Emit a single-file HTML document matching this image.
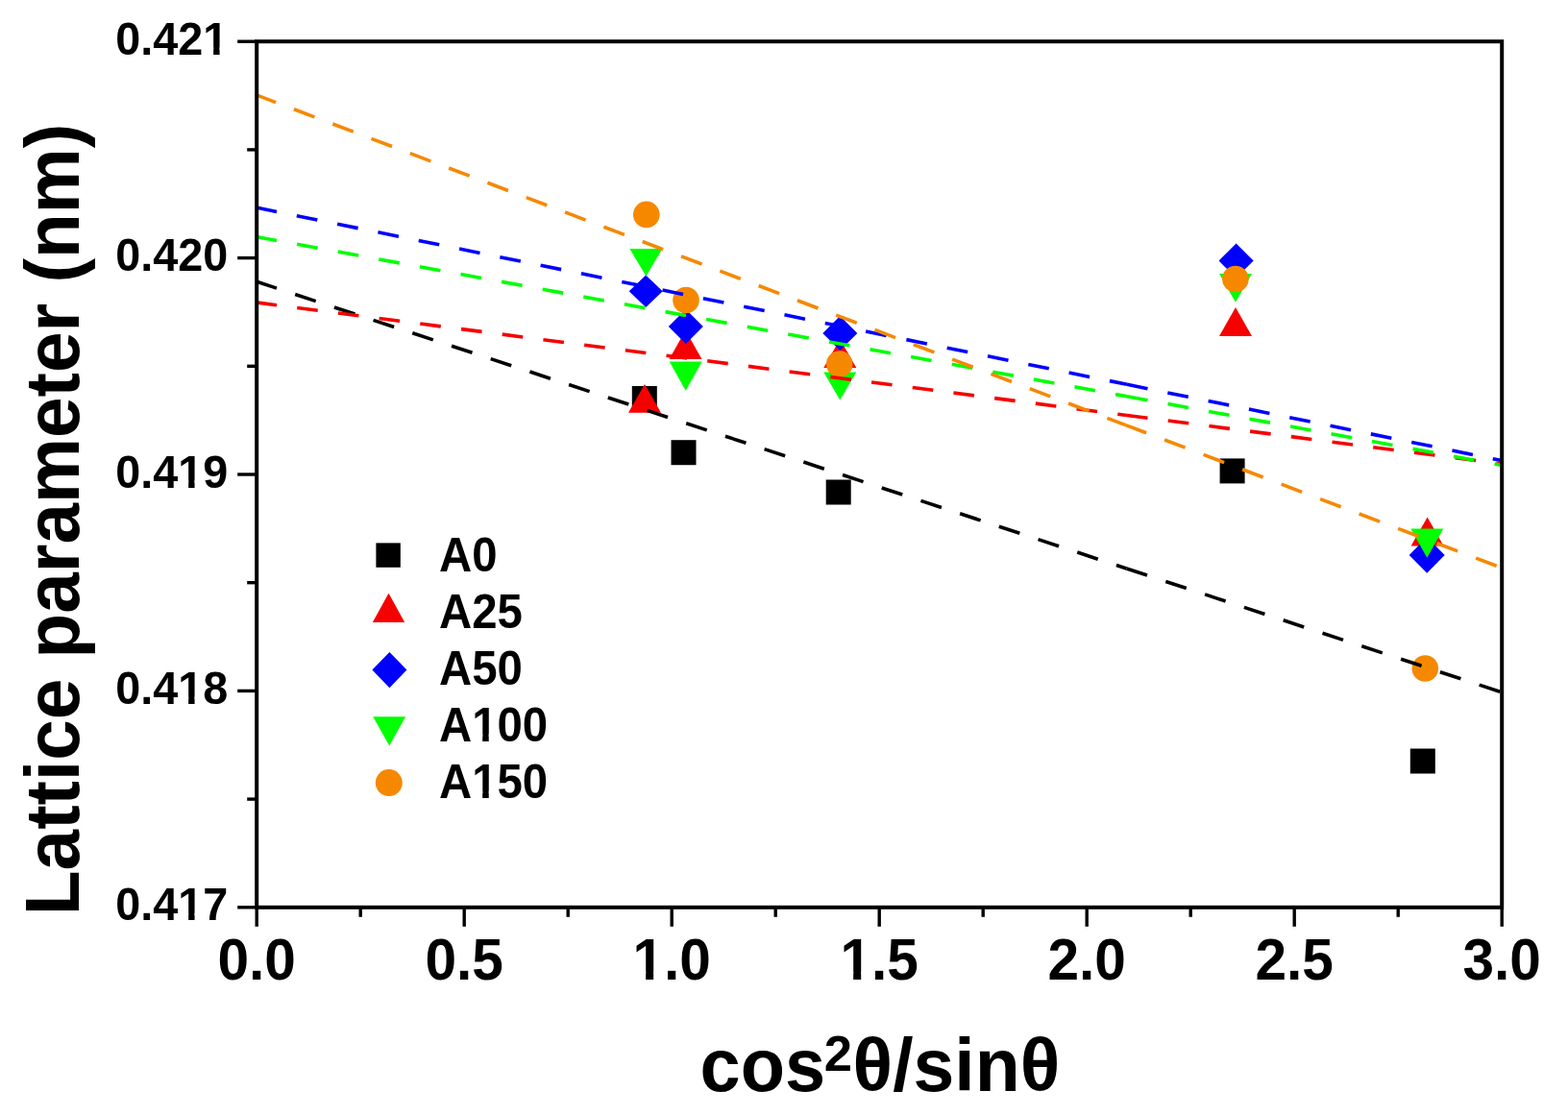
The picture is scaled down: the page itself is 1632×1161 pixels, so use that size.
<!DOCTYPE html><html><head><meta charset="utf-8"><title>Lattice parameter vs cos2θ/sinθ</title>
<style>html,body{margin:0;padding:0;background:#fff;}body{width:1632px;height:1161px;overflow:hidden;}svg{display:block;}text{font-family:"Liberation Sans", Arial, Helvetica, sans-serif;font-weight:bold;fill:#000;}</style></head><body>
<svg width="1632" height="1161" viewBox="0 0 1632 1161">
<rect x="0" y="0" width="1632" height="1161" fill="#fff"/>
<g>
<rect x="657.8" y="402.0" width="26.0" height="26.0" fill="#000"/>
<rect x="698.5" y="458.2" width="26.0" height="26.0" fill="#000"/>
<rect x="859.7" y="499.5" width="26.0" height="26.0" fill="#000"/>
<rect x="1269.6" y="477.4" width="26.0" height="26.0" fill="#000"/>
<rect x="1467.8" y="779.5" width="26.0" height="26.0" fill="#000"/>
<polygon points="671.0,399.9 654.0,429.7 688.0,429.7" fill="#f60000"/>
<polygon points="713.5,344.0 696.5,374.0 730.5,374.0" fill="#f60000"/>
<polygon points="874.3,353.0 857.3,383.0 891.3,383.0" fill="#f60000"/>
<polygon points="1286.0,320.1 1269.0,350.1 1303.0,350.1" fill="#f60000"/>
<polygon points="1485.6,538.6 1468.6,568.6 1502.6,568.6" fill="#f60000"/>
<polygon points="672.2,286.6 689.7,303.3 672.2,320.1 654.7,303.3" fill="#00f"/>
<polygon points="713.8,322.0 731.8,340.0 713.8,358.0 695.8,340.0" fill="#00f"/>
<polygon points="874.3,329.0 892.3,347.0 874.3,365.0 856.3,347.0" fill="#00f"/>
<polygon points="1286.6,253.5 1304.6,271.5 1286.6,289.5 1268.6,271.5" fill="#00f"/>
<polygon points="1485.2,559.2 1503.7,578.0 1485.2,596.8 1466.7,578.0" fill="#00f"/>
<polygon points="655.4,258.9 689.4,258.9 672.4,287.5" fill="#0f0"/>
<polygon points="696.7,376.4 730.7,376.4 713.7,406.7" fill="#0f0"/>
<polygon points="857.3,387.5 891.3,387.5 874.3,416.5" fill="#0f0"/>
<polygon points="1269.0,285.0 1303.0,285.0 1286.0,314.8" fill="#0f0"/>
<polygon points="1468.3,550.5 1502.3,550.5 1485.3,580.7" fill="#0f0"/>
<circle cx="672.8" cy="223.4" r="13.8" fill="#f68800"/>
<circle cx="714.0" cy="312.5" r="13.8" fill="#f68800"/>
<circle cx="873.8" cy="379.0" r="13.8" fill="#f68800"/>
<circle cx="1285.9" cy="290.5" r="13.8" fill="#f68800"/>
<circle cx="1483.3" cy="696.0" r="13.8" fill="#f68800"/>
</g>
<line x1="266.50" y1="293.07" x2="1172.50" y2="591.99" stroke="#000" stroke-width="3.6" stroke-dasharray="22.64 20.22"/>
<line x1="1172.50" y1="591.99" x2="1563.20" y2="720.90" stroke="#000" stroke-width="3.6" stroke-dasharray="22.64 20.32"/>
<line x1="266.50" y1="314.91" x2="1173.00" y2="432.49" stroke="#f60000" stroke-width="3.6" stroke-dasharray="21.68 21.38"/>
<line x1="1173.00" y1="432.49" x2="1563.20" y2="483.10" stroke="#f60000" stroke-width="3.6" stroke-dasharray="21.68 21.38"/>
<line x1="266.50" y1="216.06" x2="1173.00" y2="400.30" stroke="#00f" stroke-width="3.6" stroke-dasharray="21.94 21.23"/>
<line x1="1173.00" y1="400.30" x2="1563.20" y2="479.60" stroke="#00f" stroke-width="3.6" stroke-dasharray="21.94 21.23"/>
<line x1="266.50" y1="246.47" x2="1173.00" y2="412.80" stroke="#0f0" stroke-width="3.6" stroke-dasharray="21.86 21.45"/>
<line x1="1173.00" y1="412.80" x2="1563.20" y2="484.40" stroke="#0f0" stroke-width="3.6" stroke-dasharray="21.86 21.35"/>
<line x1="265.60" y1="98.39" x2="1171.60" y2="442.62" stroke="#f68800" stroke-width="3.6" stroke-dasharray="23.00 20.12"/>
<line x1="1171.60" y1="442.62" x2="1563.20" y2="591.40" stroke="#f68800" stroke-width="3.6" stroke-dasharray="23.00 20.33"/>
<g stroke="#000" stroke-width="4.0" fill="none" stroke-linecap="square">
<rect x="267.2" y="43.2" width="1296.0" height="901.6"/>
</g>
<g stroke="#000" stroke-width="3.4">
<line x1="267.2" y1="944.8" x2="267.2" y2="964.8"/>
<line x1="375.2" y1="944.8" x2="375.2" y2="954.8"/>
<line x1="483.2" y1="944.8" x2="483.2" y2="964.8"/>
<line x1="591.2" y1="944.8" x2="591.2" y2="954.8"/>
<line x1="699.2" y1="944.8" x2="699.2" y2="964.8"/>
<line x1="807.2" y1="944.8" x2="807.2" y2="954.8"/>
<line x1="915.2" y1="944.8" x2="915.2" y2="964.8"/>
<line x1="1023.2" y1="944.8" x2="1023.2" y2="954.8"/>
<line x1="1131.2" y1="944.8" x2="1131.2" y2="964.8"/>
<line x1="1239.2" y1="944.8" x2="1239.2" y2="954.8"/>
<line x1="1347.2" y1="944.8" x2="1347.2" y2="964.8"/>
<line x1="1455.2" y1="944.8" x2="1455.2" y2="954.8"/>
<line x1="1563.2" y1="944.8" x2="1563.2" y2="964.8"/>
<line x1="267.2" y1="944.8" x2="247.2" y2="944.8"/>
<line x1="267.2" y1="832.1" x2="257.2" y2="832.1"/>
<line x1="267.2" y1="719.4" x2="247.2" y2="719.4"/>
<line x1="267.2" y1="606.7" x2="257.2" y2="606.7"/>
<line x1="267.2" y1="494.0" x2="247.2" y2="494.0"/>
<line x1="267.2" y1="381.3" x2="257.2" y2="381.3"/>
<line x1="267.2" y1="268.6" x2="247.2" y2="268.6"/>
<line x1="267.2" y1="155.9" x2="257.2" y2="155.9"/>
<line x1="267.2" y1="43.2" x2="247.2" y2="43.2"/>
</g>
<text transform="translate(120.20,958.30) scale(0.9586,1)" font-size="48.80" text-anchor="start">0.417</text>
<text transform="translate(120.20,732.90) scale(0.9586,1)" font-size="48.80" text-anchor="start">0.418</text>
<text transform="translate(120.20,507.50) scale(0.9586,1)" font-size="48.80" text-anchor="start">0.419</text>
<text transform="translate(120.20,282.10) scale(0.9586,1)" font-size="48.80" text-anchor="start">0.420</text>
<text transform="translate(120.20,56.70) scale(0.9586,1)" font-size="48.80" text-anchor="start">0.421</text>
<text transform="translate(267.20,1020.40) scale(0.9650,1)" font-size="60.70" text-anchor="middle">0.0</text>
<text transform="translate(483.20,1020.40) scale(0.9650,1)" font-size="60.70" text-anchor="middle">0.5</text>
<text transform="translate(699.20,1020.40) scale(0.9650,1)" font-size="60.70" text-anchor="middle">1.0</text>
<text transform="translate(915.20,1020.40) scale(0.9650,1)" font-size="60.70" text-anchor="middle">1.5</text>
<text transform="translate(1131.20,1020.40) scale(0.9650,1)" font-size="60.70" text-anchor="middle">2.0</text>
<text transform="translate(1347.20,1020.40) scale(0.9650,1)" font-size="60.70" text-anchor="middle">2.5</text>
<text transform="translate(1563.20,1020.40) scale(0.9650,1)" font-size="60.70" text-anchor="middle">3.0</text>
<rect x="391.4" y="565.4" width="25.4" height="25.4" fill="#000"/>
<polygon points="404.5,617.8 387.8,648.1 421.2,648.1" fill="#f60000"/>
<polygon points="405.4,678.9 423.4,697.6 405.4,716.3 387.4,697.6" fill="#00f"/>
<polygon points="388.2,746.3 422.2,746.3 405.2,776.4" fill="#0f0"/>
<circle cx="404.8" cy="815.1" r="14.0" fill="#f68800"/>
<text transform="translate(457.00,595.00) scale(0.9620,1)" font-size="49.20" text-anchor="start">A0</text>
<text transform="translate(457.00,654.00) scale(0.9620,1)" font-size="49.20" text-anchor="start">A25</text>
<text transform="translate(457.00,713.00) scale(0.9620,1)" font-size="49.20" text-anchor="start">A50</text>
<text transform="translate(457.00,772.00) scale(0.9620,1)" font-size="49.20" text-anchor="start">A100</text>
<text transform="translate(457.00,831.00) scale(0.9620,1)" font-size="49.20" text-anchor="start">A150</text>
<text transform="translate(728.60,1136.00) scale(0.9820,1)" font-size="77.10" text-anchor="start">cos</text>
<text transform="translate(857.70,1114.60) scale(1.0000,1)" font-size="52.60" font-weight="normal" text-anchor="start">2</text>
<text transform="translate(887.60,1135.50) scale(0.9980,1)" font-size="77.10" text-anchor="start">θ/sinθ</text>
<text transform="translate(82.4,953.1) rotate(-90) scale(0.968,1)" font-size="79">Lattice parameter (nm)</text>
<g fill="#fff"><rect x="186.14" y="950.82" width="10.00" height="9.48"/><rect x="202.57" y="950.82" width="9.16" height="9.48"/><rect x="186.14" y="725.42" width="10.00" height="9.48"/><rect x="202.57" y="725.42" width="9.16" height="9.48"/><rect x="186.14" y="500.02" width="10.00" height="9.48"/><rect x="202.57" y="500.02" width="9.16" height="9.48"/><rect x="212.16" y="49.22" width="10.00" height="9.48"/><rect x="228.58" y="49.22" width="9.16" height="9.48"/><rect x="659.63" y="1011.71" width="12.53" height="10.69"/><rect x="680.19" y="1011.71" width="11.47" height="10.69"/><rect x="875.63" y="1011.71" width="12.53" height="10.69"/><rect x="896.19" y="1011.71" width="11.47" height="10.69"/><rect x="492.10" y="764.48" width="10.12" height="9.52"/><rect x="508.72" y="764.48" width="9.27" height="9.52"/><rect x="492.10" y="823.48" width="10.12" height="9.52"/><rect x="508.72" y="823.48" width="9.27" height="9.52"/></g>
</svg></body></html>
